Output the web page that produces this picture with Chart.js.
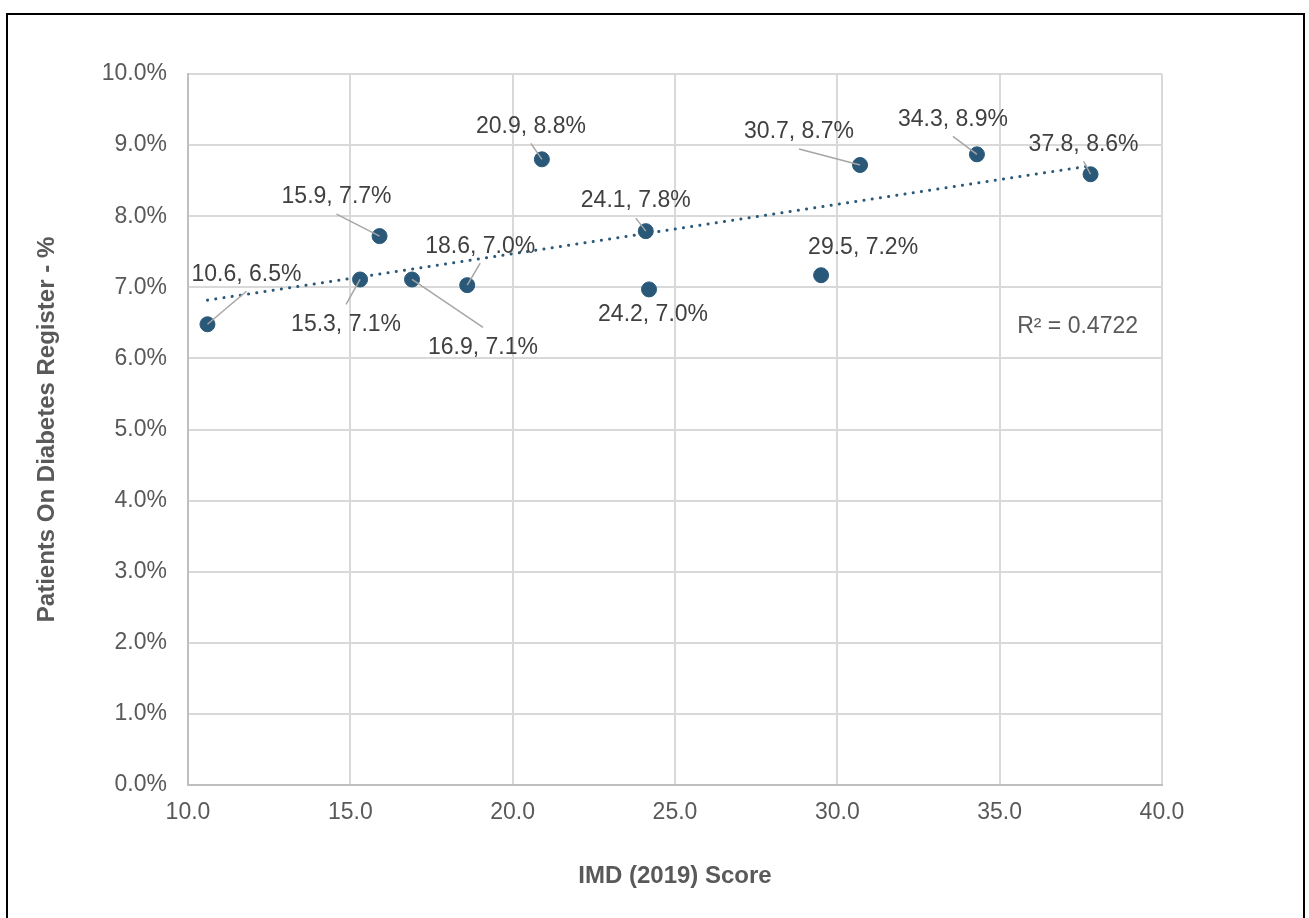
<!DOCTYPE html>
<html>
<head>
<meta charset="utf-8">
<script src="https://cdn.jsdelivr.net/npm/chart.js@4.4.1/dist/chart.umd.min.js"></script>
<style>
  html, body { margin: 0; padding: 0; background: #ffffff; }
  #wrap { width: 1309px; height: 918px; position: relative; }
</style>
</head>
<body>
<div id="wrap"><canvas id="chart" width="1309" height="918"></canvas></div>
<script>
// IMD (2019) score per practice and share of patients on the diabetes register (%)
const imdScores   = [10.6, 15.9, 15.3, 16.9, 18.6, 20.9, 24.1, 24.2, 29.5, 30.7, 34.3, 37.8];
const diabetesPct = [6.48, 7.72, 7.11, 7.11, 7.03, 8.80, 7.79, 6.97, 7.17, 8.72, 8.87, 8.59];

// Axis ranges and tick steps
const xTicks = [10, 15, 20, 25, 30, 35, 40];
const yTicks = [0, 1, 2, 3, 4, 5, 6, 7, 8, 9, 10];

// Fit statistic shown on the chart
const rSquaredText = 'R\u00B2 = 0.4722';

// Label placement (pixel offsets of each label centre from its point) and leader-line flag
const labelPlacement = [
  { dx: 39,  dy: -50, leader: true  },
  { dx: -43, dy: -39, leader: true  },
  { dx: -14, dy: 45,  leader: true  },
  { dx: 71,  dy: 68,  leader: true  },
  { dx: 13,  dy: -39, leader: true  },
  { dx: -11, dy: -33, leader: true  },
  { dx: -10, dy: -30, leader: true  },
  { dx: 4,   dy: 25,  leader: false },
  { dx: 42,  dy: -28, leader: false },
  { dx: -61, dy: -33, leader: true  },
  { dx: -24, dy: -35, leader: true  },
  { dx: -7,  dy: -30, leader: true  }
];

const FONT = '"Liberation Sans", Arial, Helvetica, sans-serif';
const POINT_COLOR = '#2A5879';
const AXIS_TEXT = '#595959';

// Least-squares linear trend through the points
function linearFit(xs, ys) {
  const n = xs.length;
  const mx = xs.reduce((a, b) => a + b, 0) / n;
  const my = ys.reduce((a, b) => a + b, 0) / n;
  let sxy = 0, sxx = 0;
  for (let i = 0; i < n; i++) { sxy += (xs[i] - mx) * (ys[i] - my); sxx += (xs[i] - mx) ** 2; }
  const slope = sxy / sxx;
  return { slope, intercept: my - slope * mx };
}
const fit = linearFit(imdScores, diabetesPct);
const xMin = Math.min(...imdScores), xMax = Math.max(...imdScores);
const trendPoints = [
  { x: xMin, y: fit.intercept + fit.slope * xMin },
  { x: xMax, y: fit.intercept + fit.slope * xMax }
];

const points = imdScores.map((x, i) => ({ x, y: diabetesPct[i] }));

// Data labels "x, y%" with grey leader lines
const dataLabelPlugin = {
  id: 'dataLabels',
  afterDatasetsDraw(chart) {
    const { ctx } = chart;
    const meta = chart.getDatasetMeta(0);
    ctx.save();
    meta.data.forEach((el, i) => {
      const p = labelPlacement[i];
      const lx = el.x + p.dx, ly = el.y + p.dy;
      if (p.leader) {
        const sy = ly + (p.dy < 0 ? 17 : -20);
        ctx.beginPath();
        ctx.strokeStyle = '#A6A6A6';
        ctx.lineWidth = 1.5;
        ctx.moveTo(lx, sy);
        ctx.lineTo(el.x, el.y);
        ctx.stroke();
      }
    });
    ctx.fillStyle = '#404040';
    ctx.font = '23px ' + FONT;
    ctx.textAlign = 'center';
    ctx.textBaseline = 'middle';
    meta.data.forEach((el, i) => {
      const p = labelPlacement[i];
      const text = imdScores[i].toFixed(1) + ', ' + diabetesPct[i].toFixed(1) + '%';
      ctx.fillText(text, el.x + p.dx, el.y + p.dy);
    });
    ctx.restore();
  }
};

// R² annotation placed in data coordinates
const rSquaredPlugin = {
  id: 'rSquared',
  afterDatasetsDraw(chart) {
    const { ctx, scales } = chart;
    ctx.save();
    ctx.fillStyle = AXIS_TEXT;
    ctx.font = '23px ' + FONT;
    ctx.textAlign = 'center';
    ctx.textBaseline = 'middle';
    ctx.fillText(rSquaredText, scales.x.getPixelForValue(37.4), scales.y.getPixelForValue(6.44));
    ctx.restore();
  }
};

// Outer chart frame
const framePlugin = {
  id: 'frame',
  afterDraw(chart) {
    const { ctx, width, height } = chart;
    ctx.save();
    ctx.strokeStyle = '#000000';
    ctx.lineWidth = 2;
    ctx.beginPath();
    ctx.moveTo(7, height);
    ctx.lineTo(7, 14);
    ctx.lineTo(width - 5, 14);
    ctx.lineTo(width - 5, height);
    ctx.stroke();
    ctx.restore();
  }
};

new Chart(document.getElementById('chart'), {
  type: 'scatter',
  data: {
    datasets: [
      {
        label: 'Practices',
        data: points,
        backgroundColor: POINT_COLOR,
        borderColor: POINT_COLOR,
        pointRadius: 7.5,
        pointHoverRadius: 7.5,
        order: 0
      },
      {
        type: 'line',
        label: 'Linear trend',
        data: trendPoints,
        borderColor: POINT_COLOR,
        borderWidth: 3,
        borderDash: [0.1, 8.2],
        borderCapStyle: 'round',
        pointRadius: 0,
        fill: false,
        order: 1
      }
    ]
  },
  options: {
    responsive: false,
    animation: false,
    layout: { padding: { left: 0, right: 147, top: 74, bottom: 0 } },
    plugins: { legend: { display: false }, tooltip: { enabled: false } },
    scales: {
      x: {
        type: 'linear',
        min: xTicks[0],
        max: xTicks[xTicks.length - 1],
        afterBuildTicks(scale) { scale.ticks = xTicks.map(v => ({ value: v })); },
        afterFit(scale) { scale.height = 133; },
        ticks: {
          padding: 14,
          color: AXIS_TEXT,
          font: { family: FONT, size: 23 },
          callback: v => Number(v).toFixed(1)
        },
        grid: { color: '#D9D9D9', lineWidth: 2, drawTicks: false },
        border: { color: '#BFBFBF', width: 2 },
        title: {
          display: true,
          text: 'IMD (2019) Score',
          color: AXIS_TEXT,
          font: { family: FONT, size: 24, weight: 'bold' },
          padding: { top: 0, bottom: 27 }
        }
      },
      y: {
        type: 'linear',
        min: yTicks[0],
        max: yTicks[yTicks.length - 1],
        afterBuildTicks(scale) { scale.ticks = yTicks.map(v => ({ value: v })); },
        afterFit(scale) { scale.width = 188; },
        ticks: {
          padding: 21,
          color: AXIS_TEXT,
          font: { family: FONT, size: 23 },
          callback: v => Number(v).toFixed(1) + '%'
        },
        grid: { color: '#D9D9D9', lineWidth: 2, drawTicks: false },
        border: { color: '#BFBFBF', width: 2 },
        title: {
          display: true,
          text: 'Patients On Diabetes Register - %',
          color: AXIS_TEXT,
          font: { family: FONT, size: 24, weight: 'bold' },
          padding: { top: 33, bottom: 0 }
        }
      }
    }
  },
  plugins: [dataLabelPlugin, rSquaredPlugin, framePlugin]
});
</script>
</body>
</html>
